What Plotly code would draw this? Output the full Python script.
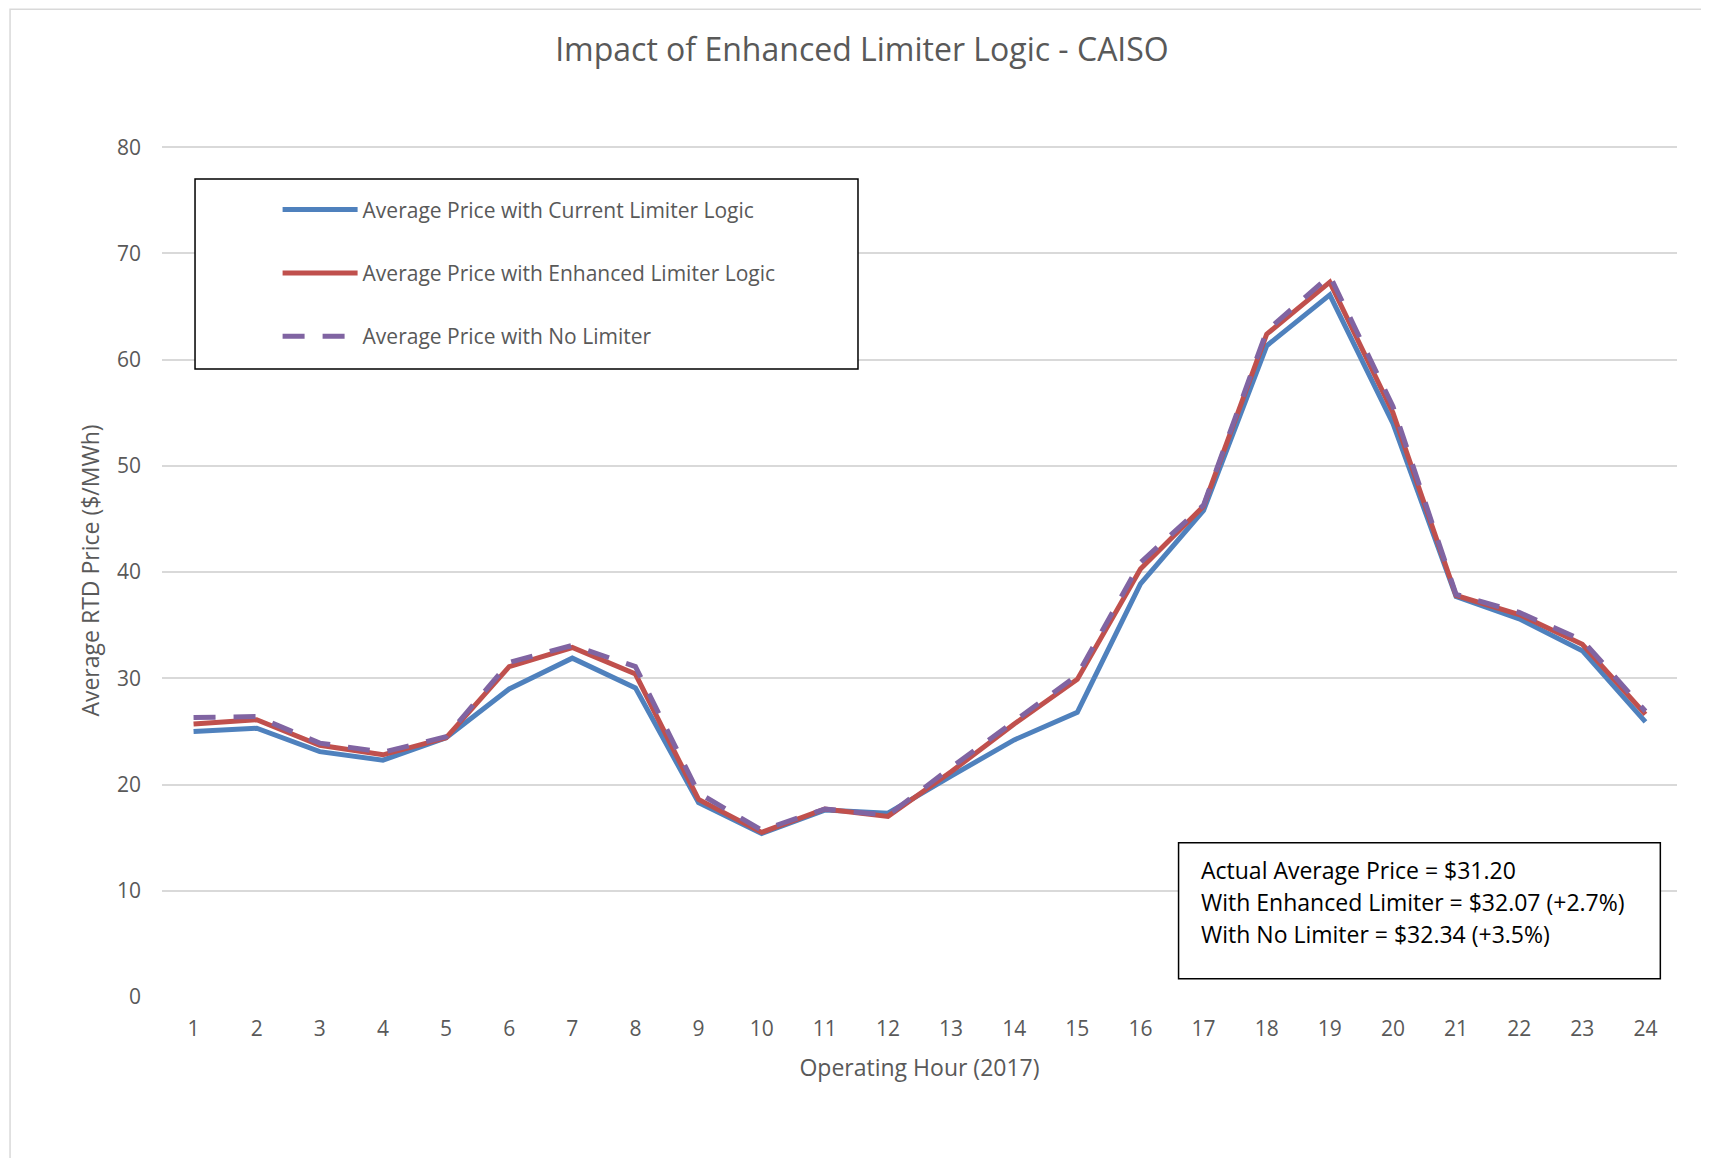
# coding:utf-8
from plotly import graph_objs as go

# 数据
hours = [str(h) for h in range(1, 25)]
current_logic = [25.0, 25.3, 23.1, 22.3, 24.4, 29.0, 31.9, 29.1, 18.3, 15.4, 17.6, 17.3,
                 20.8, 24.2, 26.8, 38.9, 45.8, 61.3, 66.1, 54.0, 37.7, 35.6, 32.6, 25.9]
enhanced_logic = [25.7, 26.1, 23.7, 22.8, 24.4, 31.1, 32.9, 30.4, 18.6, 15.5, 17.7, 17.0,
                  21.2, 25.7, 29.9, 40.3, 46.2, 62.4, 67.3, 55.0, 37.8, 36.0, 33.2, 26.6]
no_limiter = [26.3, 26.4, 23.9, 23.05, 24.5, 31.5, 33.1, 31.1, 19.2, 15.7, 17.7, 17.1,
              21.6, 26.0, 30.3, 40.9, 46.3, 62.7, 67.9, 55.6, 37.9, 36.2, 33.6, 26.9]
y_ticks = [0, 10, 20, 30, 40, 50, 60, 70, 80]
summary_lines = ['Actual Average Price = $31.20',
                 'With Enhanced Limiter = $32.07 (+2.7%)',
                 'With No Limiter = $32.34 (+3.5%)']

FONT = 'Open Sans'
GREY = '#595959'

p_current = go.Scatter(
    x=hours, y=current_logic, mode='lines',
    name='Average Price with Current Limiter Logic', legendgroup='a',
    line=dict(color='#4F81BD', width=5))
p_enhanced = go.Scatter(
    x=hours, y=enhanced_logic, mode='lines',
    name='Average Price with Enhanced Limiter Logic', legendgroup='b',
    line=dict(color='#C0504D', width=5))
p_none = go.Scatter(
    x=hours, y=no_limiter, mode='lines',
    name='Average Price with No Limiter', legendgroup='c',
    line=dict(color='#8064A2', width=5, dash='22px,18px'))
data = [p_current, p_enhanced, p_none]

shapes = [
    # 外框（底边和右边超出画布）
    dict(type='rect', xref='paper', yref='paper', x0=-0.1003, x1=1.03, y0=-0.25, y1=1.158,
         line=dict(color='#D9D9D9', width=1.5), layer='below'),
    # 图例框
    dict(type='rect', xref='paper', yref='paper', x0=0.0218, x1=0.4594, y0=0.7362, y1=0.959,
         line=dict(color='black', width=1.5), fillcolor='white', layer='above'),
    # 注释框
    dict(type='rect', xref='paper', yref='paper', x0=0.671, x1=0.989, y0=0.0215, y1=0.1809,
         line=dict(color='black', width=1.5), fillcolor='white', layer='above'),
]

annotations = []
for txt, yy in zip(summary_lines, [0.1489, 0.1114, 0.0739]):
    annotations.append(dict(
        text=txt, xref='paper', yref='paper', x=0.6845, y=yy,
        xanchor='left', yanchor='middle', showarrow=False,
        font=dict(family=FONT, size=23, color='black')))

layout = go.Layout(
    width=1693, height=1150,
    margin=dict(l=154, r=24, t=136, b=161),
    paper_bgcolor='white', plot_bgcolor='white',
    font=dict(family=FONT, color=GREY),
    title=dict(text='Impact of Enhanced Limiter Logic - CAISO', xref='container', yref='container',
               x=0.5044, y=0.9635, xanchor='center', yanchor='middle',
               font=dict(family=FONT, size=32, color=GREY)),
    xaxis=dict(type='category', range=[-0.5, 23.5], showgrid=False, showline=False,
               zeroline=False, ticks='',
               tickfont=dict(size=21, color=GREY), ticklabelstandoff=17,
               title=dict(text='Operating Hour (2017)', font=dict(size=23, color=GREY), standoff=18)),
    yaxis=dict(range=[0, 80.3], tickvals=y_ticks,
               showgrid=True, gridcolor='#D9D9D9', gridwidth=1.5,
               zeroline=False, showline=False, ticks='',
               tickfont=dict(size=21, color=GREY), ticklabelstandoff=20,
               title=dict(text='Average RTD Price ($/MWh)', font=dict(size=23, color=GREY), standoff=10)),
    legend=dict(x=0.0763, y=0.9467, xanchor='left', yanchor='top', bgcolor='rgba(0,0,0,0)',
                borderwidth=0, font=dict(size=21, color=GREY), itemwidth=75,
                traceorder='grouped', tracegroupgap=33),
    shapes=shapes,
    annotations=annotations,
    showlegend=True)

fig = go.Figure(data=data, layout=layout)
fig.write_html('out.html')
